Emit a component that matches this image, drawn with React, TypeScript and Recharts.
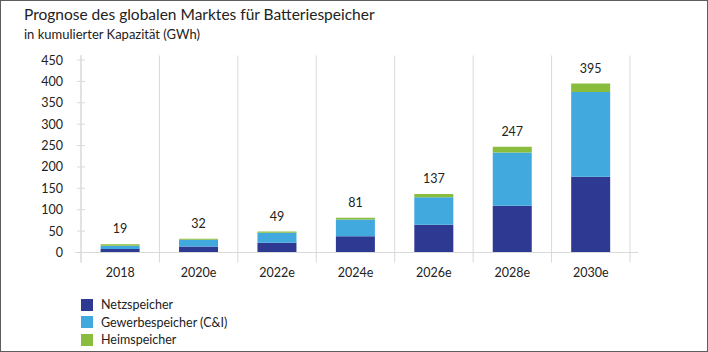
import { BarChart, Bar, XAxis, YAxis, LabelList } from 'recharts';

const years = ['2018', '2020e', '2022e', '2024e', '2026e', '2028e', '2030e'];
const netzspeicher = [8, 14, 23, 38, 65, 109, 177];
const gewerbespeicher = [8, 16, 23, 39, 64, 125, 198];
const heimspeicher = [3, 2, 3, 4, 8, 13, 20];
const totals = [19, 32, 49, 81, 137, 247, 395];
const yTicks = [0, 50, 100, 150, 200, 250, 300, 350, 400, 450];

const series = [
  { key: 'netz', name: 'Netzspeicher', color: '#2e3992' },
  { key: 'gewerbe', name: 'Gewerbespeicher (C&I)', color: '#42a9df' },
  { key: 'heim', name: 'Heimspeicher', color: '#8abd3d' },
];

const data = years.map((year, i) => ({
  year,
  netz: netzspeicher[i],
  gewerbe: gewerbespeicher[i],
  heim: heimspeicher[i],
  total: totals[i],
}));

const FONT = 'Lato, "Open Sans", sans-serif';
const TEXT = '#222';
const GRID = '#d9d9d9';

// plot box
const W = 708;
const H = 352;
const X_AXIS_H = 30;
const M = { top: 60, right: 78, bottom: 99.5 - X_AXIS_H, left: 0 };
const Y_AXIS_W = 81;
const plotW = W - M.left - M.right - Y_AXIS_W;
const band = plotW / years.length;

const XTick = ({ x, y, payload, index }: any) => {
  const left = x - band / 2;
  return (
    <g>
      {index === 0 && (
        <line x1={left - 6} x2={left + plotW + 8} y1={y} y2={y} stroke={GRID} strokeWidth={1} />
      )}
      <line x1={left} x2={left} y1={y - 197} y2={y + 10} stroke={GRID} strokeWidth={1} />
      {index === years.length - 1 && (
        <line x1={left + band} x2={left + band} y1={y - 197} y2={y + 10} stroke={GRID} strokeWidth={1} />
      )}
      <text x={x} y={y + 24} textAnchor="middle" fontSize={12.5} fill={TEXT} fontFamily={FONT}>
        {payload.value}
      </text>
    </g>
  );
};

const YTick = ({ x, y, payload, index }: any) => (
  <g>
    <line x1={x - 4} x2={x + 4} y1={y} y2={y} stroke={GRID} strokeWidth={1} />
    {index === 0 && <line x1={x} x2={x} y1={y} y2={y + 10} stroke={GRID} strokeWidth={1} />}
    {index === yTicks.length - 1 && <line x1={x} x2={x} y1={y - 5} y2={y} stroke={GRID} strokeWidth={1} />}
    <text x={x - 18} y={y + 4.5} textAnchor="end" fontSize={12.5} fill={TEXT} fontFamily={FONT}>
      {payload.value}
    </text>
  </g>
);

export default function App() {
  return (
    <div
      style={{
        position: 'absolute',
        left: 0,
        top: 0,
        width: W,
        height: H,
        boxSizing: 'border-box',
        border: '1px solid #5e5e5e',
        background: '#fff',
        fontFamily: FONT,
        color: TEXT,
      }}
    >
      <div style={{ position: 'absolute', left: 23, top: 4, fontSize: 15.5 }}>
        Prognose des globalen Marktes für Batteriespeicher
      </div>
      <div style={{ position: 'absolute', left: 23, top: 25, fontSize: 13 }}>
        in kumulierter Kapazität (GWh)
      </div>

      <div style={{ position: 'absolute', left: -1, top: -1 }}>
        <BarChart width={W} height={H} data={data} margin={M} barCategoryGap="25%">
          <XAxis
            dataKey="year"
            height={X_AXIS_H}
            axisLine={false}
            tickLine={false}
            tickSize={0}
            tickMargin={0}
            interval={0}
            tick={<XTick />}
          />
          <YAxis
            width={Y_AXIS_W}
            domain={[0, 450]}
            ticks={yTicks}
            axisLine={{ stroke: GRID }}
            tickLine={false}
            tickSize={0}
            tickMargin={0}
            interval={0}
            tick={<YTick />}
          />
          {series.map((s, i) => (
            <Bar key={s.key} dataKey={s.key} name={s.name} stackId="a" fill={s.color} isAnimationActive={false}>
              {i === series.length - 1 && (
                <LabelList dataKey="total" position="top" offset={11} fontSize={12.5} fill={TEXT} fontFamily={FONT} />
              )}
            </Bar>
          ))}
        </BarChart>
      </div>

      <div style={{ position: 'absolute', left: 80, top: 295 }}>
        {series.map((s) => (
          <div key={s.key} style={{ display: 'flex', alignItems: 'center', height: 17.5, fontSize: 12.5 }}>
            <span style={{ width: 12, height: 12, background: s.color, display: 'inline-block', marginRight: 8 }} />
            <span>{s.name}</span>
          </div>
        ))}
      </div>
    </div>
  );
}
